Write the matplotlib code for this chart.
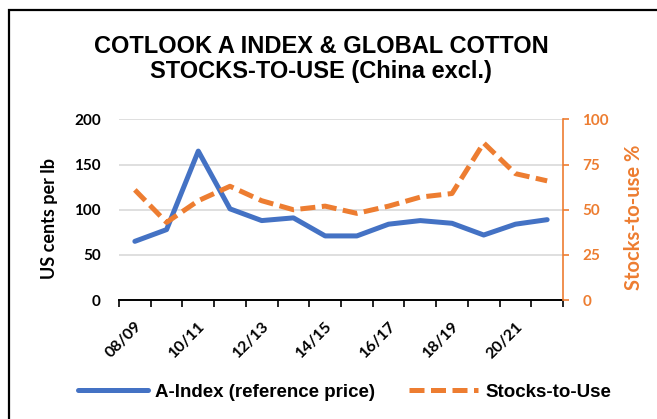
import matplotlib.pyplot as plt
from matplotlib.patches import Rectangle
import numpy as np

seasons = ["08/09", "09/10", "10/11", "11/12", "12/13", "13/14", "14/15",
           "15/16", "16/17", "17/18", "18/19", "19/20", "20/21", "21/22"]
a_index = [65, 78, 165, 101, 88, 91, 71, 71, 84, 88, 85, 72, 84, 89]
stocks_to_use = [61, 43, 55, 63, 55, 50, 52, 48, 52, 57, 59, 87, 70, 66]

blue = "#4472C4"
orange = "#ED7D31"

fig = plt.figure(figsize=(6.57, 4.19), dpi=100)
ax = fig.add_axes([119 / 657, 1 - 300 / 419, 444 / 657, 180.5 / 419])
ax2 = ax.twinx()

x = np.arange(len(seasons))
ax.plot(x, a_index, color=blue, lw=3.6, solid_capstyle="round",
        label="A-Index (reference price)", zorder=3)
ax2.plot(x, stocks_to_use, color=orange, lw=3.6, dashes=(3.0, 1.3),
         dash_capstyle="butt", label="Stocks-to-Use")

ax.set_xlim(-0.5, len(seasons) - 0.5)
ax.set_ylim(0, 200)
ax2.set_ylim(0, 100)
ax.set_yticks([0, 50, 100, 150, 200])
ax2.set_yticks([0, 25, 50, 75, 100])

tick_font = dict(family="Lato", weight="bold", size=11.5)

# tick marks sit between the categories, labels on every second category
ax.set_xticks(np.arange(-0.5, len(seasons), 1.0))
ax.set_xticklabels([])
ax.set_xticks(x[::2], minor=True)
ax.set_xticklabels(seasons[::2], minor=True, rotation=45, ha="right",
                   va="top", rotation_mode="anchor", fontdict=tick_font)
ax.tick_params(axis="x", which="major", length=5, width=1.2, color="black",
               direction="out")
ax.tick_params(axis="x", which="minor", length=0, pad=14)

ax.tick_params(axis="y", length=0, pad=13)
for lab in ax.get_yticklabels():
    lab.set_fontproperties("Lato")
    lab.set_fontweight("bold")
    lab.set_fontsize(11)
ax2.tick_params(axis="y", length=4, width=1.2, color=orange, labelcolor=orange,
                direction="out", pad=10)
for lab in ax2.get_yticklabels():
    lab.set_fontproperties("Lato")
    lab.set_fontweight("bold")
    lab.set_fontsize(11)

ax.grid(axis="y", color="#D9D9D9", lw=1.2)
ax.set_axisbelow(True)
for side in ["left", "right", "top"]:
    ax.spines[side].set_visible(False)
    ax2.spines[side].set_visible(False)
ax2.spines["bottom"].set_visible(False)
ax2.spines["right"].set_visible(True)
ax2.spines["right"].set_color(orange)
ax2.spines["right"].set_linewidth(1.2)
ax.spines["bottom"].set_linewidth(1.4)

fig.text(49 / 657, 1 - 218 / 419, "US cents per lb", rotation=90, ha="center",
         va="center", family="Lato", weight="bold", size=13)
fig.text(634 / 657, 1 - 217 / 419, "Stocks-to-use %", rotation=90, ha="center",
         va="center", family="Lato", weight="bold", size=14.5, color=orange)

fig.text(321 / 657, 1 - 59 / 419,
         "COTLOOK A INDEX & GLOBAL COTTON\nSTOCKS-TO-USE (China excl.)",
         ha="center", va="center", family="Liberation Sans", weight="bold",
         size=17, linespacing=1.15)

h1, l1 = ax.get_legend_handles_labels()
h2, l2 = ax2.get_legend_handles_labels()
fig.legend(h1 + h2, l1 + l2, loc="center", bbox_to_anchor=(345 / 657, 1 - 392 / 419),
           ncol=2, frameon=False, handlelength=3.7, handletextpad=0.4,
           columnspacing=1.8,
           prop=dict(family="Liberation Sans", weight="bold", size=13.5))

# chart border (only left and top edges fall inside the picture)
fig.patches.append(Rectangle((9 / 657, -0.05), 1.1, 1 - 10 / 419 + 0.05,
                             transform=fig.transFigure, fill=False,
                             edgecolor="black", lw=1.6))

fig.savefig("out.png", dpi=100)
